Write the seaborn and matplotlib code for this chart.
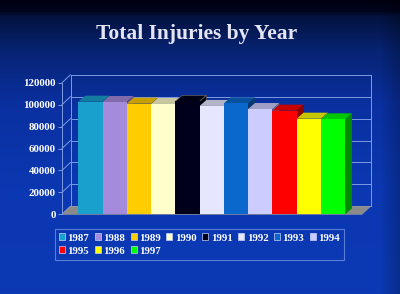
import numpy as np
import matplotlib
matplotlib.use("Agg")
import matplotlib.pyplot as plt
from matplotlib.patches import Polygon, Patch
from matplotlib.colors import to_rgb, LinearSegmentedColormap
import seaborn as sns
import pandas as pd

years = ["1987", "1988", "1989", "1990", "1991", "1992",
         "1993", "1994", "1995", "1996", "1997"]
injuries = [102700, 102400, 100900, 100600, 103000, 98800,
            101200, 96000, 94500, 87200, 86600]
bar_colors = ["#1aa0cc", "#a48bdc", "#ffcc00", "#ffffcc", "#00001a", "#e6e6ff",
              "#0a68cc", "#ccccff", "#ff0000", "#ffff00", "#00ff00"]
yticks = [0, 20000, 40000, 60000, 80000, 100000, 120000]
title = "Total Injuries by Year"

sns.set_theme(style="white")
plt.rcParams["font.family"] = ["Liberation Serif", "DejaVu Serif"]

W, H = 400, 294
fig = plt.figure(figsize=(W / 100, H / 100), dpi=100)

# background gradient
bg = fig.add_axes([0, 0, 1, 1], zorder=-10)
cmap = LinearSegmentedColormap.from_list(
    "bg", [(0.0, "#000012"), (0.035, "#00051c"), (0.05, "#03123e"),
           (0.17, "#072373"), (0.35, "#0a30a0"), (0.65, "#0b38b2"), (1.0, "#0b3ab4")])
grad = np.linspace(0, 1, 300)[:, None] * np.ones((1, 400))
img = cmap(grad)
xs = np.linspace(0, 1, 400)
shade = 1 - 0.22 * np.clip((xs - 0.95) / 0.05, 0, 1)
img[:, :, :3] *= shade[None, :, None]
bg.imshow(img, aspect="auto", extent=[0, 1, 0, 1])
bg.set_axis_off()

# front plane of the 3D chart
x0p, x1p, y0p, y1p = 62, 362, 214.3, 82.7
ax = fig.add_axes([x0p / W, (H - y0p) / H, (x1p - x0p) / W, (y0p - y1p) / H])
ax.set_facecolor("none")

df = pd.DataFrame({"year": years, "injuries": injuries})
sns.barplot(data=df, x="year", y="injuries", hue="year", palette=bar_colors,
            width=1.0, saturation=1, legend=False, ax=ax, linewidth=0)

xlim = (-1.17, 11.19)
ylim = (0, 120000)
ax.set_xlim(xlim)
ax.set_ylim(ylim)
pxx = (xlim[1] - xlim[0]) / (x1p - x0p)
pxy = (ylim[1] - ylim[0]) / (y0p - y1p)

grid_c = "#7d9be0"
# wall depth
dxw, dyw = 8.5 * pxx, 8 * pxy
for v in yticks:
    ax.plot([xlim[0] + dxw, xlim[1] + dxw], [v + dyw, v + dyw], color=grid_c,
            lw=0.7, clip_on=False, zorder=0.5)
    ax.plot([xlim[0], xlim[0] + dxw], [v, v + dyw], color=grid_c,
            lw=0.7, clip_on=False, zorder=0.5)
ax.plot([xlim[0] + dxw] * 2, [dyw, ylim[1] + dyw], color=grid_c, lw=0.7,
        clip_on=False, zorder=0.5)
ax.plot([xlim[1] + dxw] * 2, [dyw, ylim[1] + dyw], color=grid_c, lw=0.7,
        clip_on=False, zorder=0.5)
floor = Polygon([(xlim[0], 0), (xlim[1], 0), (xlim[1] + dxw, dyw), (xlim[0] + dxw, dyw)],
                closed=True, facecolor="#8a8a8a", edgecolor="#a0a0a0", lw=0.4,
                clip_on=False, zorder=0.8)
ax.add_patch(floor)

# 3D bar tops and sides
dxb, dyb = 6.8 * pxx, 6 * pxy
bars = [p for p in ax.patches if p is not floor]
for i, p in enumerate(bars):
    x, w, h = p.get_x(), p.get_width(), p.get_height()
    c = np.array(to_rgb(p.get_facecolor()))
    top_c = c * 0.78
    side_c = c * 0.55
    ec = "#606060" if c.sum() < 0.3 else "none"
    top = Polygon([(x, h), (x + w, h), (x + w + dxb, h + dyb), (x + dxb, h + dyb)],
                  closed=True, facecolor=top_c, edgecolor=ec, lw=0.5,
                  clip_on=False, zorder=2 + 2 * i)
    side = Polygon([(x + w, 0), (x + w, h), (x + w + dxb, h + dyb), (x + w + dxb, dyb)],
                   closed=True, facecolor=side_c, edgecolor=ec, lw=0.5,
                   clip_on=False, zorder=2 + 2 * i)
    ax.add_patch(top)
    ax.add_patch(side)
    p.set_zorder(3 + 2 * i)
    p.set_clip_on(False)

for s in ["top", "right", "bottom"]:
    ax.spines[s].set_visible(False)
ax.spines["left"].set_color(grid_c)
ax.spines["left"].set_linewidth(0.7)
ax.set_xticks([])
ax.set_yticks(yticks)
ax.set_yticklabels([str(v) for v in yticks])
ax.tick_params(axis="y", colors=grid_c, length=3, width=0.7, pad=1.5, left=True,
               labelcolor="white", labelsize=7.8)
for t in ax.get_yticklabels():
    t.set_fontweight("bold")
ax.set_xlabel("")
ax.set_ylabel("")

fig.text(197 / W, 1 - 34 / H, title, ha="center", va="center", fontsize=15.5,
         fontweight="bold", color="#e4e4f4")

handles = [Patch(facecolor=c, edgecolor="#c8d0ff", lw=0.5) for c in bar_colors]
order = [0, 8, 1, 9, 2, 10, 3, 4, 5, 6, 7]
leg = fig.legend([handles[i] for i in order], [years[i] for i in order],
                 loc="upper left", bbox_to_anchor=(54.5 / W, 1 - 229 / H), ncol=8,
                 prop={"family": ["Liberation Serif"], "weight": "bold", "size": 7.8},
                 frameon=True, fancybox=False, handlelength=0.55, handleheight=0.6,
                 handletextpad=0.25, columnspacing=0.5, borderpad=0.4,
                 labelspacing=0.35, borderaxespad=0)
leg.get_frame().set_facecolor("none")
leg.get_frame().set_edgecolor("#6f8fe0")
leg.get_frame().set_linewidth(0.8)
for t in leg.get_texts():
    t.set_color("white")

fig.savefig("out.png", dpi=100)
